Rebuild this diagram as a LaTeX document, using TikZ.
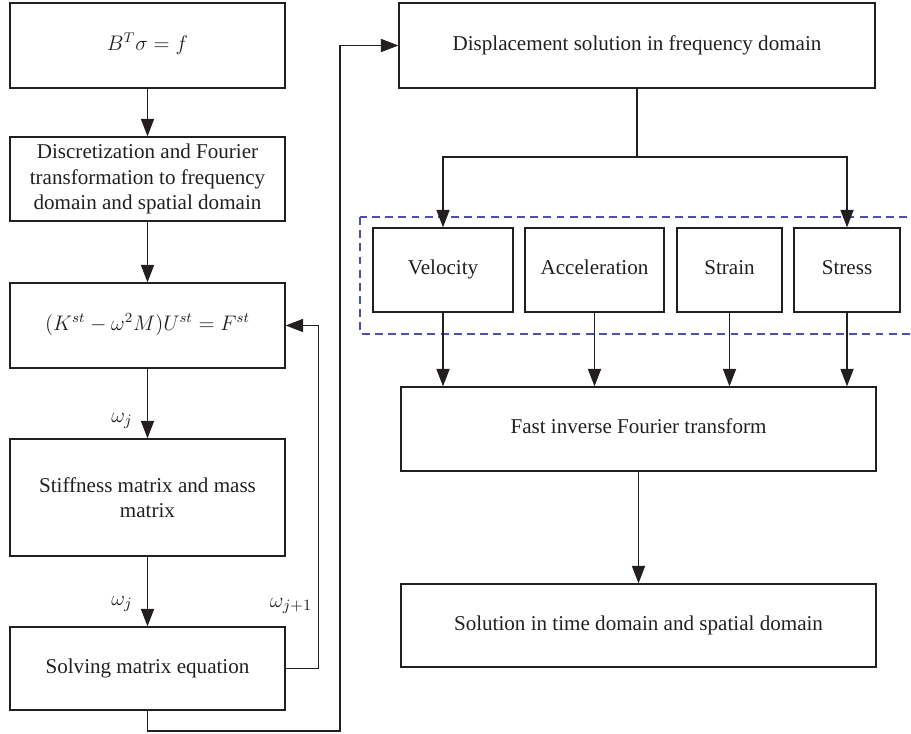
\documentclass[tikz,border=0pt]{standalone}
\usepackage{fontspec}
\setmainfont{Liberation Serif}
\usetikzlibrary{arrows.meta}
\definecolor{grpline}{RGB}{80,80,172}
\definecolor{ink}{RGB}{35,31,32}
\tikzset{blk/.style={draw=ink, line width=0.75pt, align=center, inner sep=2pt, font=\fontsize{12}{14.6}\selectfont},
         one/.style={blk, text height=8.2pt, text depth=2.6pt},
         arr/.style={draw=ink, line width=0.75pt, -{Triangle[length=10pt,width=7.5pt]}},
         wire/.style={draw=ink, line width=0.75pt}}

\begin{document}
\begin{tikzpicture}[x=0.02cm, y=-0.02cm, text=ink]
  \useasboundingbox (0,0) rectangle (911,733);

  % ---------- left column ----------
  \node[one, minimum width=5.5cm, minimum height=1.7cm]  (eq)    at (147.5,45.5)  {$B^{T}\sigma = f$};
  \node[blk, minimum width=5.5cm, minimum height=1.68cm] (disc)  at (147.5,179)   {Discretization and Fourier\\transformation to frequency\\domain and spatial domain};
  \node[one, minimum width=5.5cm, minimum height=1.7cm]  (dyn)   at (147.5,325.5) {$(K^{st} - \omega^{2}M)U^{st} = F^{st}$};
  \node[blk, minimum width=5.5cm, minimum height=2.34cm] (stiff) at (147.5,497.5) {Stiffness matrix and mass\\matrix};
  \node[one, minimum width=5.5cm, minimum height=1.66cm] (solve) at (147.5,668.5) {Solving matrix equation};

  % ---------- right column ----------
  \node[one, minimum width=9.52cm, minimum height=1.7cm] (disp) at (637,45.5) {Displacement solution in frequency domain};
  \draw[grpline, line width=0.75pt, dash pattern=on 4.5pt off 3pt] (360,217) rectangle (925,334);
  \node[one, minimum width=2.8cm,  minimum height=1.68cm] (vel)    at (443,270)   {Velocity};
  \node[one, minimum width=2.78cm, minimum height=1.68cm] (acc)    at (594.5,270) {Acceleration};
  \node[one, minimum width=2.1cm,  minimum height=1.68cm] (strain) at (729.5,270) {Strain};
  \node[one, minimum width=2.12cm, minimum height=1.68cm] (stress) at (847,270)   {Stress};
  \node[one, minimum width=9.5cm,  minimum height=1.68cm] (fift)   at (638.5,429) {Fast inverse Fourier transform};
  \node[one, minimum width=9.5cm,  minimum height=1.66cm] (sol)    at (638.5,625.5) {Solution in time domain and spatial domain};

  % ---------- frequency loop ----------
  \draw[arr] (eq) -- (disc);
  \draw[arr] (disc) -- (dyn);
  \draw[arr] (dyn) -- (stiff);
  \draw[arr] (stiff) -- (solve);
  \node[font=\fontsize{12.5}{14}\selectfont] (wj1) at (122,421) {$\omega_j$};
  \node[font=\fontsize{12.5}{14}\selectfont] (wj2) at (122,604) {$\omega_j$};
  \node[font=\fontsize{12.5}{14}\selectfont] (wj3) at (291,606) {$\omega_{j+1}$};
  \draw[arr] (solve.east) -- ++(33,0) |- (dyn.east);                 % next frequency back to the equation

  % ---------- on to the displacement ----------
  \coordinate (lp) at (340,731);
  \draw[arr] (solve.south) |- (lp) |- (disp.west);
  \draw[wire] (disp.south) -- (disp.south |- 0,157) coordinate (br);
  \draw[arr] (br) -| (vel.north);
  \draw[arr] (br) -| (stress.north);

  % ---------- quantities -> inverse transform ----------
  \foreach \q in {vel,acc,strain,stress}
    \draw[arr] (\q.south) -- (\q.south |- fift.north);
  \draw[arr] (fift) -- (sol);

\end{tikzpicture}
\end{document}
